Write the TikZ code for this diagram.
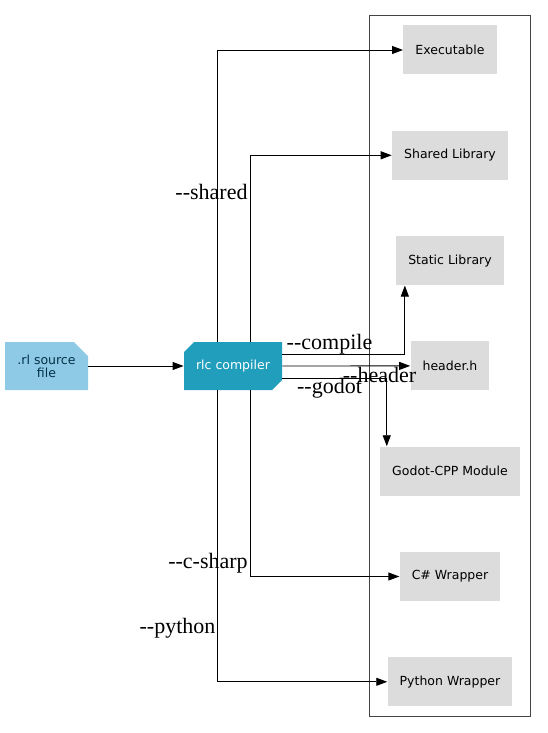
\documentclass[tikz,border=0pt]{standalone}
\usepackage{fontspec}
\setmainfont{DejaVu Sans}
\newfontfamily\flagfont{Liberation Serif}
\usetikzlibrary{positioning,fit,shapes.misc,arrows.meta}
\definecolor{srcblue}{HTML}{8ECAE6}
\definecolor{compblue}{HTML}{219EBC}
\definecolor{navy}{HTML}{023047}
\definecolor{outgray}{HTML}{DCDCDC}
\definecolor{boxgray}{HTML}{444444}

\begin{document}
\begin{tikzpicture}[x=1pt,y=1pt,node distance=105.3pt,on grid,line width=0.9pt,
			>={Triangle[length=11pt,width=8pt]},
			source/.style={chamfered rectangle, chamfered rectangle corners=north east, chamfered rectangle sep=7pt, fill=srcblue, text=navy, minimum width=83pt, minimum height=48pt, inner sep=0pt, align=center, font=\fontsize{12.5}{13}\selectfont},
			compiler/.style={chamfered rectangle, chamfered rectangle corners={north west,south east}, chamfered rectangle sep=5pt, fill=compblue, text=white, minimum width=98pt, minimum height=48pt, inner sep=0pt, font=\fontsize{12.5}{13}\selectfont},
			output/.style={rectangle, fill=outgray, minimum height=49pt, inner xsep=12pt, font=\fontsize{12.5}{13}\selectfont},
			cluster/.style={rectangle, draw=boxgray, inner sep=10pt},
			flag/.style={anchor=base, inner sep=0pt, font=\flagfont\fontsize{22}{24}\selectfont}
		]
		\useasboundingbox (0,0) rectangle (548,-733);
		
		\node[compiler] (comp) at (233,-366) {rlc compiler};
		\node[source] (src) [left=186.5pt of comp] {.rl source\\file};
		
		\node[output] (exe) at (450,-50) {Executable};
		\node[output] (shared) [below=of exe] {Shared Library};
		\node[output] (static) [below=of shared] {Static Library};
		\node[output] (header) [below=of static] {header.h};
		\node[output] (godot) [below=of header] {Godot-CPP Module};
		\node[output] (csharp) [below=of godot] {C\# Wrapper};
		\node[output] (python) [below=of csharp] {Python Wrapper};
		
		\node[cluster] (outputs) [fit={(exe) (shared) (static) (header) (godot) (csharp) (python)}] {};
		
		\draw[->] (src.east) -- (comp.west);
		
		\draw[->] ([xshift=-16pt]comp.north) |- (exe.west);
		\draw[->] ([xshift=17pt]comp.north) |- (shared.west);
		\draw[->] ([yshift=12pt]comp.east) -| ([xshift=9pt]static.south west);
		\draw[->] (comp.east) -- (header.west);
		\draw[->] ([yshift=-12pt]comp.east) -| ([xshift=7pt]godot.north west);
		\draw[->] ([xshift=17pt]comp.south) |- (csharp.west);
		\draw[->] ([xshift=-16pt]comp.south) |- (python.west);
		
		\node[flag] (f_shared) at (211.5,-199) {-{}-shared};
		\node[flag] (f_compile) at (329.5,-349) {-{}-compile};
		\node[flag] (f_header) at (379.5,-382) {-{}-header};
		\node[flag] (f_godot) at (329.5,-393) {-{}-godot};
		\node[flag] (f_csharp) at (208,-568) {-{}-c-sharp};
		\node[flag] (f_python) at (177.5,-633) {-{}-python};
	\end{tikzpicture}
\end{document}
